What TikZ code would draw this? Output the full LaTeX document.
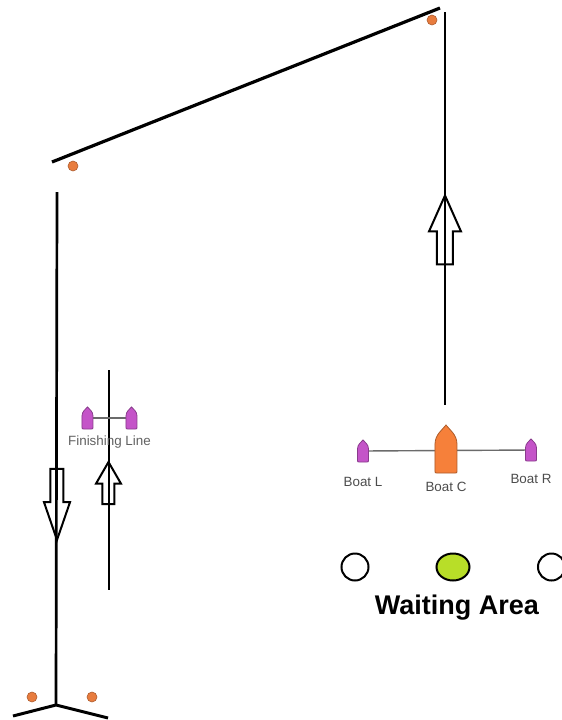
\documentclass[tikz,border=0pt]{standalone}
\usepackage{fontspec}
\setmainfont{Liberation Sans}
\usetikzlibrary{shapes.arrows,shapes.geometric,positioning,calc}
\definecolor{buoy}{RGB}{232,124,62}
\definecolor{hull}{RGB}{196,84,200}
\definecolor{boatc}{RGB}{246,128,58}
\definecolor{lime}{RGB}{184,222,40}

\begin{document}
\begin{tikzpicture}[x=0.5pt,y=-0.5pt,
	leg/.style={line width=1.35pt},
	diag/.style={line width=1.6pt},
	thinleg/.style={line width=1pt},
	rope/.style={line width=0.7pt,black!58},
	buoymark/.style={circle,fill=buoy,draw=buoy!75!black,line width=0.3pt,inner sep=0pt,minimum size=5pt},
	way/.style={single arrow,draw,line width=1pt,inner xsep=0pt,anchor=tip},
	spot/.style={circle,draw,line width=1pt,minimum size=13.5pt,inner sep=0pt},
	lbl/.style={inner sep=0pt,font=\fontsize{6.7pt}{8pt}\selectfont,text=black!70},
	pics/boat/.style n args={3}{code={
		\filldraw[fill=#1,draw=#1!70!black,line width=0.4pt]
			({-#2/2},{#3/2-2}) -- ({-#2/2},{-#3/10})
			.. controls ({-#2/2},{-#3*0.3}) and ({-#2/6},{-#3*0.4}) .. (0,{-#3/2})
			.. controls ({#2/6},{-#3*0.4}) and ({#2/2},{-#3*0.3}) .. ({#2/2},{-#3/10})
			-- ({#2/2},{#3/2-2}) .. controls ({#2/2},{#3/2}) .. ({#2/2-2},{#3/2})
			-- ({-#2/2+2},{#3/2}) .. controls ({-#2/2},{#3/2}) .. cycle;
	}}]
	\useasboundingbox (0,0) rectangle (562,720);
	\clip (0,0) rectangle (562,720);

	\coordinate (c_1) at (52,162);
	\coordinate (c_2) at (440,8);
	\coordinate (c_3) at (445,12);
	\coordinate (c_4) at (445,405);
	\coordinate (c_5) at (57,192);
	\coordinate (c_6) at (56,705);
	\coordinate (c_7) at (13,716);
	\coordinate (c_8) at (108,718);
	\coordinate (c_9) at (109,370);
	\coordinate (c_10) at (109,590);

	\node[buoymark] (m_1) at (432,20) {};
	\node[buoymark] (m_2) at (73,166) {};
	\node[buoymark] (m_3) at (32,697) {};
	\node[buoymark] (m_4) at (92,697) {};

	\node[way,rotate=90,inner ysep=3.5pt,single arrow head extend=4pt,single arrow tip angle=48,minimum height=34.5pt] (a_up) at (445,193) {};
	\node[way,rotate=-90,inner ysep=2.75pt,single arrow head extend=3.25pt,single arrow tip angle=38,minimum height=35.5pt] (a_down) at (57,543) {};
	\node[way,rotate=90,inner ysep=2.5pt,single arrow head extend=3.25pt,single arrow tip angle=60,minimum height=21pt] (a_fin) at (108.5,460) {};

	\draw[diag] (c_1) -- (c_2);
	\draw[leg] (c_3) -- (c_4);
	\draw[leg] (c_5) -- (c_6);
	\draw[leg,line width=1.5pt] (c_7) -- (c_6) -- (c_8);
	\draw[thinleg] (c_9) -- (c_10);

	\coordinate (f_1) at (87.5,418);
	\coordinate (f_2) at (131.5,418);
	\coordinate (f_m) at ($(f_1)!0.5!(f_2)$);
	\draw[rope] (f_1) -- (f_2);
	\pic at (f_1) {boat={hull}{11}{22}};
	\pic at (f_2) {boat={hull}{11}{22}};
	\node[lbl,text=black!62] [below=8.5pt of f_m] (t_f) {Finishing Line};

	\coordinate (b_L) at (363,451);
	\coordinate (b_C) at (446,449);
	\coordinate (b_R) at (531,450);
	\draw[rope] (b_L) -- (b_R);
	\pic at (b_L) {boat={hull}{11}{22}};
	\pic at (b_C) {boat={boatc}{22}{48}};
	\pic at (b_R) {boat={hull}{11}{22}};
	\node[lbl] [below=13pt of b_L] (t_L) {Boat L};
	\node[lbl] [below=16.5pt of b_C] (t_C) {Boat C};
	\node[lbl] [below=12pt of b_R] (t_R) {Boat R};

	\node[spot] (w_1) at (355,567) {};
	\node[ellipse,draw,line width=1pt,fill=lime,minimum width=16.5pt,minimum height=13.5pt,inner sep=0pt] (w_2) at (453,567) {};
	\node[spot] (w_3) at (551.5,567) {};
	\node[inner sep=0pt,font=\bfseries\fontsize{13.5pt}{16pt}\selectfont,xshift=2pt] [below=6.5pt of w_2] (t_w) {Waiting Area};
\end{tikzpicture}
\end{document}
